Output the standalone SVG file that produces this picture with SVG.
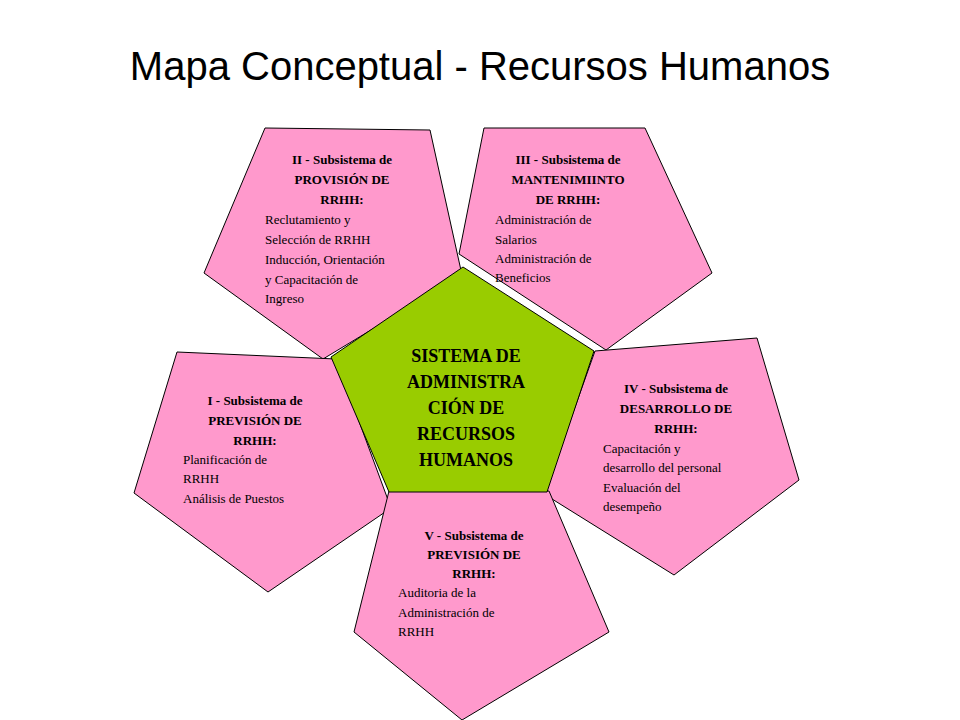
<svg xmlns="http://www.w3.org/2000/svg" width="960" height="720" viewBox="0 0 960 720">
<style>
.p{fill:#ff99cc;stroke:#000;stroke-width:1}
.g{fill:#99cc00;stroke:#000;stroke-width:1}
.h{font-family:"Liberation Serif",serif;font-weight:bold;font-size:13px;text-anchor:middle}
.b{font-family:"Liberation Serif",serif;font-size:13px}
.c{font-family:"Liberation Serif",serif;font-weight:bold;font-size:18px;text-anchor:middle}
</style>
<rect width="960" height="720" fill="#fff"/>
<text x="480" y="80" font-family="Liberation Sans,Arial,sans-serif" font-size="40" text-anchor="middle">Mapa Conceptual - Recursos Humanos</text>
<g id="n2"><polygon class="p" points="265,128 430,130 462,275 323,359 204,273"/>
<text class="h" x="342" y="164">II - Subsistema de</text><text class="h" x="342" y="184">PROVISIÓN DE</text><text class="h" x="342" y="204">RRHH:</text>
<text class="b" x="265" y="224">Reclutamiento y</text><text class="b" x="265" y="244">Selección de RRHH</text><text class="b" x="265" y="264">Inducción, Orientación</text><text class="b" x="265" y="284">y Capacitación de</text><text class="b" x="265" y="303">Ingreso</text></g>
<g id="n3"><polygon class="p" points="484,128 645,128 712,273 606,350 459,254"/>
<text class="h" x="568" y="164">III - Subsistema de</text><text class="h" x="568" y="184">MANTENIMIINTO</text><text class="h" x="568" y="204">DE RRHH:</text>
<text class="b" x="495" y="224">Administración de</text><text class="b" x="495" y="244">Salarios</text><text class="b" x="495" y="263">Administración de</text><text class="b" x="495" y="282">Beneficios</text></g>
<g id="n4"><polygon class="p" points="595,351 757,338 799,480 674,575 544,494"/>
<text class="h" x="676" y="393">IV - Subsistema de</text><text class="h" x="676" y="413">DESARROLLO DE</text><text class="h" x="676" y="433">RRHH:</text>
<text class="b" x="603" y="453">Capacitación y</text><text class="b" x="603" y="472">desarrollo del personal</text><text class="b" x="603" y="492">Evaluación del</text><text class="b" x="603" y="511">desempeño</text></g>
<g id="n1"><polygon class="p" points="177,352 336,359 391,508 268,592 134,493"/>
<text class="h" x="255" y="405">I - Subsistema de</text><text class="h" x="255" y="425">PREVISIÓN DE</text><text class="h" x="255" y="445">RRHH:</text>
<text class="b" x="183" y="464">Planificación de</text><text class="b" x="183" y="483">RRHH</text><text class="b" x="183" y="503">Análisis de Puestos</text></g>
<g id="n5"><polygon class="p" points="389,491 549,491 609,632 462,720 354,632"/>
<text class="h" x="474" y="540">V - Subsistema de</text><text class="h" x="474" y="559">PREVISIÓN DE</text><text class="h" x="474" y="578">RRHH:</text>
<text class="b" x="398" y="597">Auditoria de la</text><text class="b" x="398" y="617">Administración de</text><text class="b" x="398" y="636">RRHH</text></g>
<g id="center"><polygon class="g" points="463,267 594,351 547,492 389,492 331,357"/>
<text class="c" x="466" y="362">SISTEMA DE</text><text class="c" x="466" y="388">ADMINISTRA</text><text class="c" x="466" y="414">CIÓN DE</text><text class="c" x="466" y="440">RECURSOS</text><text class="c" x="466" y="466">HUMANOS</text></g>
<g id="connectors"/>
</svg>
